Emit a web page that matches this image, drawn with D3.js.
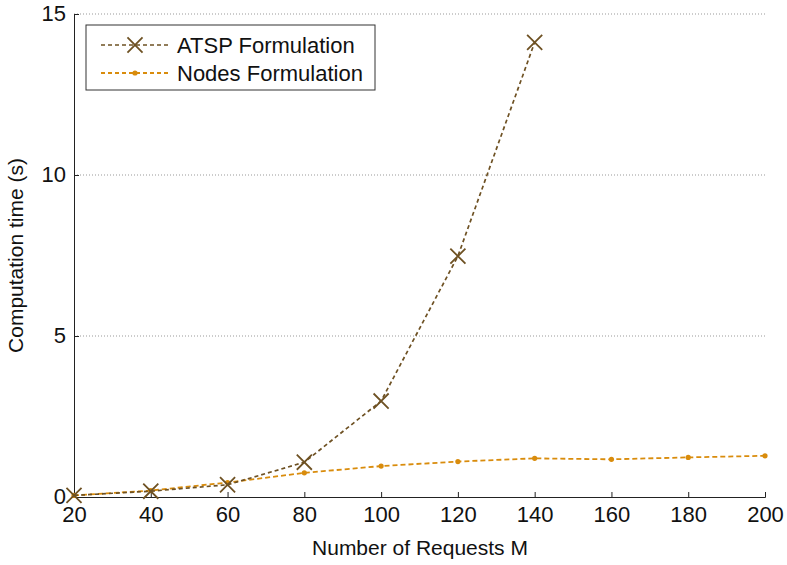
<!DOCTYPE html>
<html>
<head>
<meta charset="utf-8">
<script src="https://cdn.jsdelivr.net/npm/d3@7"></script>
<style>
  body { margin: 0; background: #fff; }
  text { font-family: "Liberation Sans", Arial, sans-serif; }
</style>
</head>
<body>
<script>
// data
var requests = [20, 40, 60, 80, 100, 120, 140, 160, 180, 200];
var atspTime = [0.05, 0.18, 0.38, 1.08, 2.98, 7.48, 14.12];
var nodesTime = [0.05, 0.2, 0.45, 0.75, 0.96, 1.1, 1.2, 1.17, 1.23, 1.28];
var yTicks = [0, 5, 10, 15];
var seriesNames = ["ATSP Formulation", "Nodes Formulation"];

var atspColor = "#6e5123",
    nodesColor = "#d98c0c";

var margin = {top: 14, right: 22, bottom: 68, left: 74},
    width = 787 - margin.left - margin.right,
    height = 565 - margin.top - margin.bottom;

var svg = d3.select("body").append("svg")
    .attr("width", 787)
    .attr("height", 565)
  .append("g")
    .attr("transform", "translate(" + margin.left + "," + margin.top + ")");

var x = d3.scaleLinear().domain([20, 200]).range([0, width]);
var y = d3.scaleLinear().domain([0, 15]).range([height, 0]);

// dotted grid
svg.selectAll(".grid")
    .data(yTicks.filter(function(d) { return d > 0; }))
  .enter().append("line")
    .attr("x1", 0).attr("x2", width)
    .attr("y1", function(d) { return y(d); })
    .attr("y2", function(d) { return y(d); })
    .attr("stroke", "#999")
    .attr("stroke-width", 1)
    .attr("stroke-dasharray", "1,2");

// axes
var xAxis = svg.append("g")
    .attr("transform", "translate(0," + height + ")")
    .call(d3.axisBottom(x).tickValues(requests).tickSize(-5).tickPadding(9));
var yAxis = svg.append("g")
    .call(d3.axisLeft(y).tickValues(yTicks).tickSize(-5).tickPadding(8));

[xAxis, yAxis].forEach(function(a) {
  a.select(".domain").attr("stroke", "#222");
  a.selectAll(".tick line").attr("stroke", "#222");
  a.selectAll(".tick text").style("font-size", "22px").attr("fill", "#111")
    .style("font-family", "'Liberation Sans', Arial, sans-serif");
});
yAxis.selectAll(".tick text").attr("dy", "0.3em");

// axis labels
svg.append("text")
    .attr("x", 346)
    .attr("y", height + 58)
    .attr("text-anchor", "middle")
    .style("font-size", "21px")
    .attr("fill", "#111")
    .text("Number of Requests M");

svg.append("text")
    .attr("transform", "rotate(-90)")
    .attr("x", -y(7.5))
    .attr("y", -51)
    .attr("text-anchor", "middle")
    .style("font-size", "21px")
    .attr("fill", "#111")
    .text("Computation time (s)");

var line = d3.line()
    .x(function(d, i) { return x(requests[i]); })
    .y(function(d) { return y(d); });

// nodes series
svg.append("path")
    .datum(nodesTime)
    .attr("d", line)
    .attr("fill", "none")
    .attr("stroke", nodesColor)
    .attr("stroke-width", 1.8)
    .attr("stroke-dasharray", "5,3");
svg.selectAll(".nd")
    .data(nodesTime)
  .enter().append("circle")
    .attr("cx", function(d, i) { return x(requests[i]); })
    .attr("cy", function(d) { return y(d); })
    .attr("r", 2.6)
    .attr("fill", nodesColor);

// atsp series
svg.append("path")
    .datum(atspTime)
    .attr("d", line)
    .attr("fill", "none")
    .attr("stroke", atspColor)
    .attr("stroke-width", 1.7)
    .attr("stroke-dasharray", "4,3");

var cross = d3.symbol().type(d3.symbolX).size(150);
svg.selectAll(".ax")
    .data(atspTime)
  .enter().append("path")
    .attr("d", cross)
    .attr("transform", function(d, i) { return "translate(" + x(requests[i]) + "," + y(d) + ")"; })
    .attr("fill", "none")
    .attr("stroke", atspColor)
    .attr("stroke-width", 1.8);

// legend
var legend = svg.append("g")
    .attr("transform", "translate(" + (86 - margin.left) + "," + (25 - margin.top) + ")");
legend.append("rect")
    .attr("width", 289).attr("height", 65)
    .attr("fill", "#fff")
    .attr("stroke", "#333").attr("stroke-width", 1);

var legRows = legend.selectAll(".row")
    .data(seriesNames)
  .enter().append("g")
    .attr("transform", function(d, i) { return "translate(0," + (20 + i * 28) + ")"; });

legRows.append("line")
    .attr("x1", 15).attr("x2", 83)
    .attr("stroke", function(d, i) { return i === 0 ? atspColor : nodesColor; })
    .attr("stroke-width", function(d, i) { return i === 0 ? 1.7 : 1.8; })
    .attr("stroke-dasharray", "4,3");

legRows.filter(function(d, i) { return i === 0; }).append("path")
    .attr("d", cross)
    .attr("transform", "translate(49,0)")
    .attr("fill", "none")
    .attr("stroke", atspColor)
    .attr("stroke-width", 1.8);
legRows.filter(function(d, i) { return i === 1; }).append("circle")
    .attr("cx", 49).attr("r", 2.6)
    .attr("fill", nodesColor);

legRows.append("text")
    .attr("x", 91)
    .attr("dy", "0.35em")
    .style("font-size", "22px")
    .attr("fill", "#111")
    .text(function(d) { return d; });
</script>
</body>
</html>
